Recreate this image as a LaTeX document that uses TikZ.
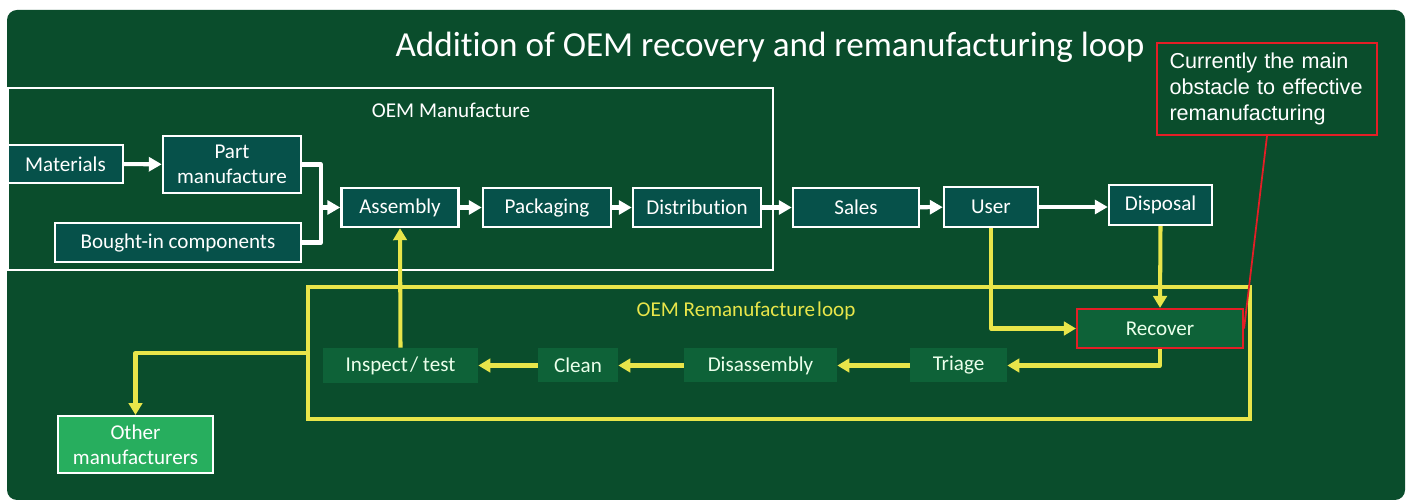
\documentclass[tikz,border=0pt]{standalone}
\usepackage{fontspec}
\setmainfont[Ligatures=NoCommon]{Carlito}
\newfontfamily\calloutfont{Liberation Sans}
\usepackage{xcolor}
\usetikzlibrary{
    arrows.meta,
    positioning
}
\definecolor{slidegreen}{HTML}{0A4D2C}
\definecolor{boxteal}{HTML}{06514A}
\definecolor{loopgreen}{HTML}{0E6238}
\definecolor{othergreen}{HTML}{27AE5E}
\definecolor{loopyellow}{HTML}{E8E54A}
\definecolor{calloutred}{HTML}{E41E26}

\begin{document}
\begin{tikzpicture}[
    x=0.2mm, y=-0.2mm,
    font=\fontsize{12}{14}\selectfont,
    box/.style={
        rectangle,
        draw=white,
        line width=1.4pt,
        fill=boxteal,
        text=white,
        align=center,
        inner sep=0pt,
        minimum height=7.8mm
    },
    loopbox/.style={
        rectangle,
        fill=loopgreen,
        text=white!92!green,
        align=center,
        inner sep=0pt,
        minimum height=6.8mm
    },
    frame/.style={
        rectangle,
        inner sep=0pt
    },
    warrow/.style={
        -{Triangle[length=2.6mm,width=2.8mm]},
        line width=2.3pt,
        draw=white
    },
    wline/.style={
        line width=2.3pt,
        draw=white,
        line join=round
    },
    yarrow/.style={
        -{Triangle[length=2.4mm,width=2.7mm]},
        line width=2.3pt,
        draw=loopyellow,
        line join=round
    }
]

% =========================================================
% Slide background
% =========================================================
\fill[white] (0,0) rectangle (1410,502);
\fill[slidegreen, rounded corners=2mm] (7,10) rectangle (1405,500);
\useasboundingbox (0,0) rectangle (1410,502);

\node[text=white, font=\fontsize{20}{24}\selectfont] (title) at (770,47)
{Addition of OEM recovery and remanufacturing loop};

% =========================================================
% Frames
% =========================================================
\node[frame, draw=white, line width=1.1pt, minimum width=153mm, minimum height=36.4mm] (oem) at (390.5,179) {};
\node[text=white] (oemlabel) at (451,110) {OEM Manufacture};

\node[frame, draw=loopyellow, line width=2.2pt, minimum width=188.4mm, minimum height=26.4mm] (loop) at (779,353) {};
\node[text=loopyellow] (looplabel) at (746,311) {OEM Remanufacture\hspace{-1.5pt} loop};

% =========================================================
% OEM manufacture chain
% =========================================================
\node[box, minimum width=23mm, minimum height=7.6mm] (materials) at (65.5,164) {Materials};
\node[box, minimum width=27.6mm, minimum height=11.4mm] (part) at (232,164.5) {Part\\manufacture};
\node[box, minimum width=49.2mm] (bought) at (178,242.5) {Bought-in components};
\node[box, minimum width=23.4mm] (assembly) at (400,207.5) {Assembly};
\node[box, minimum width=25.6mm] (packaging) at (547,207.5) {Packaging};
\node[box, minimum width=25.6mm] (distribution) at (697,207.5) {Distribution};
\node[box, minimum width=25.2mm] (sales) at (856,207.5) {Sales};
\node[box, minimum width=18.8mm, minimum height=8mm] (user) at (991,207) {User};
\node[box, minimum width=20.6mm, minimum height=8mm] (disposal) at (1160.5,205) {Disposal};

\coordinate (join) at (321,207.5);

% =========================================================
% Remanufacture loop
% =========================================================
\node[loopbox, draw=calloutred, line width=1.2pt, minimum width=33.2mm, minimum height=7.8mm] (recover) at (1160,328.5) {Recover};
\node[loopbox, minimum width=19.4mm] (triage) at (958.5,365.5) {Triage};
\node[loopbox, minimum width=30.6mm] (disassembly) at (760.5,365.5) {Disassembly};
\node[loopbox, minimum width=16mm] (clean) at (578,365.5) {Clean};
\node[loopbox, minimum width=31mm, minimum height=7mm] (inspect) at (400.5,365.5) {Inspect\hspace{-1.5pt} / test};

\node[box, fill=othergreen, line width=1.1pt, minimum width=31mm, minimum height=11.4mm] (other) at (135.5,444.5) {Other\\manufacturers};

% =========================================================
% Callout
% =========================================================
\node[rectangle, draw=calloutred, line width=1.1pt, minimum width=44mm, minimum height=18.4mm,
      text=white, align=left, text width=39mm, inner sep=0pt,
      font=\calloutfont\fontsize{12.3}{14.7}\selectfont] (callout) at (1267,89)
{Currently the main\\obstacle to effective\\remanufacturing};

% =========================================================
% White arrows
% =========================================================
\draw[warrow] (materials) -- (part);
\draw[wline] (part.east) -| (join);
\draw[wline] (bought.east) -| (join);
\draw[warrow] (join) -- (assembly.west);
\draw[warrow] (assembly) -- (packaging);
\draw[warrow] (packaging) -- (distribution);
\draw[warrow] (distribution) -- (sales);
\draw[warrow] (sales) -- (user);
\draw[warrow] (user.east) -- (user.east -| disposal.west);

% =========================================================
% Yellow arrows
% =========================================================
\draw[yarrow] (user.south) |- (recover.west);
\draw[yarrow] (disposal.south) -- (recover.north);
\draw[yarrow] (recover.south) |- (triage.east);
\draw[yarrow] (triage) -- (disassembly);
\draw[yarrow] (disassembly) -- (clean);
\draw[yarrow] (clean) -- (inspect);
\draw[yarrow] (inspect.north) -- (assembly.south);
\draw[yarrow] (loop.west) -| (other.north);

\draw[calloutred, line width=1pt] (callout.south) -- (recover.east);

\end{tikzpicture}
\end{document}
